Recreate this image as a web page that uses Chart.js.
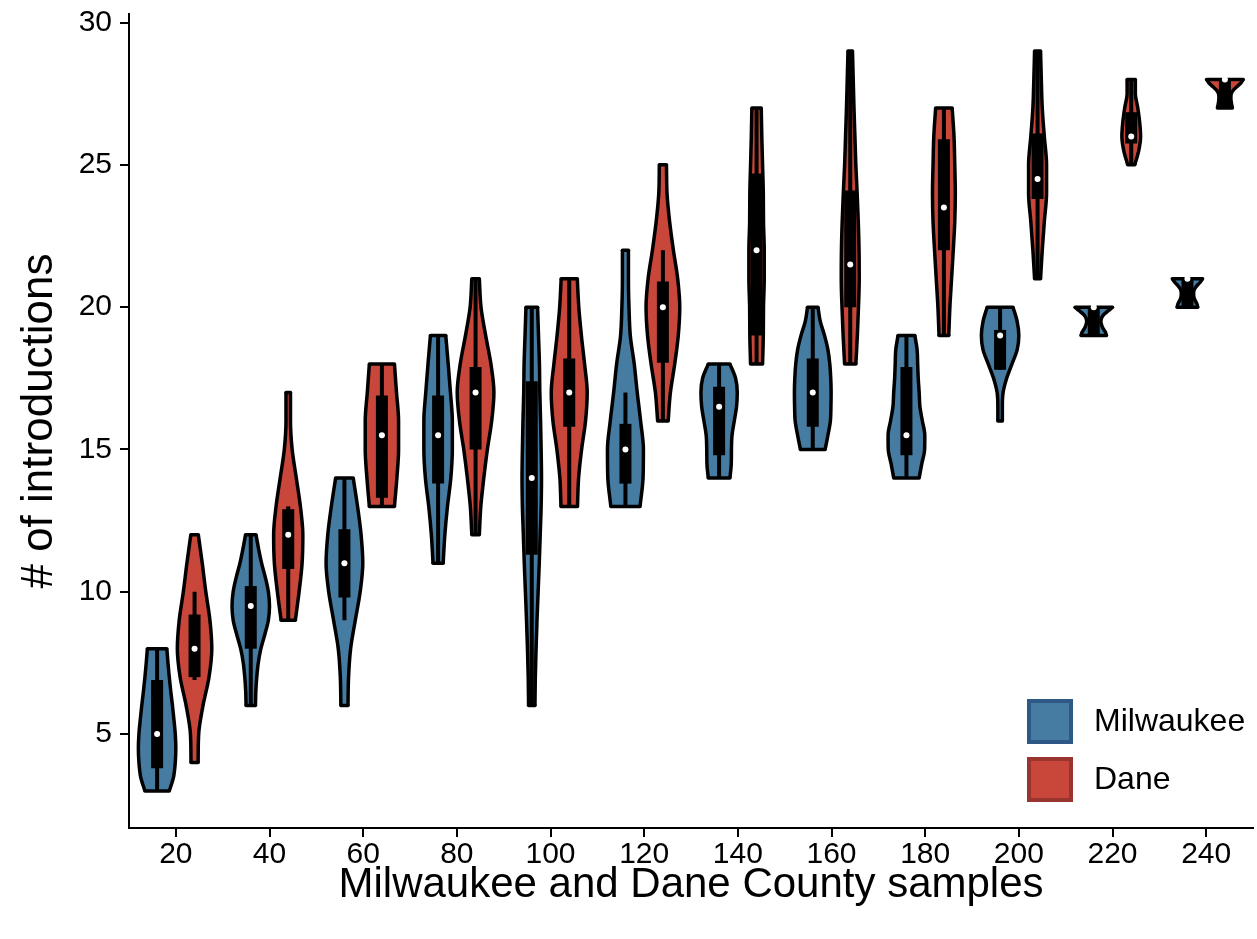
<!DOCTYPE html>
<html>
<head>
<meta charset="utf-8">
<script src="https://cdn.jsdelivr.net/npm/chart.js@4.4.1/dist/chart.umd.min.js"></script>
<style>
html,body{margin:0;padding:0;background:#fff;}
#wrap{width:1257px;height:939px;position:relative;}
</style>
</head>
<body>
<div id="wrap"><canvas id="c" width="1257" height="939"></canvas></div>
<script>
// ---------- data ----------
const categories = [20, 40, 60, 80, 100, 120, 140, 160, 180, 200, 220, 240];
const seriesNames = ['Milwaukee', 'Dane'];

// Milwaukee
const milLo  = [3, 6, 6, 11, 6, 13, 14, 15, 14, 16, 19, 20];
const milHi  = [8, 12, 14, 19, 20, 22, 18, 20, 19, 20, 20, 21];
const milQ1  = [3.8, 8.0, 9.8, 13.8, 11.3, 13.8, 14.8, 15.8, 14.8, 17.8, 19, 20];
const milMed = [5, 9.5, 11, 15.5, 14, 15, 16.5, 17, 15.5, 19, 20, 21];
const milQ3  = [6.9, 10.2, 12.2, 16.9, 17.4, 15.9, 17.2, 18.2, 17.9, 19.2, 20, 21];
const milWLo = [3, 6, 9, 11, 6, 13, 14, 15, 14, 17.8, 19, 20];
const milWHi = [8, 12, 14, 19, 20, 17, 18, 20, 19, 20, 20, 21];
// relative violin half-widths, sampled evenly from lo to hi
const milDens = [
  [0.65, 0.88, 0.97, 1.0, 0.97, 0.9, 0.82, 0.73, 0.65, 0.58, 0.52],
  [0.25, 0.27, 0.32, 0.4, 0.54, 0.75, 0.94, 1.0, 0.94, 0.78, 0.58, 0.42, 0.28],
  [0.19, 0.22, 0.33, 0.58, 0.84, 0.98, 0.89, 0.70, 0.47],
  [0.27, 0.36, 0.5, 0.68, 0.76, 0.76, 0.66, 0.54, 0.41],
  [0.17, 0.19, 0.23, 0.28, 0.34, 0.4, 0.45, 0.5, 0.52, 0.5, 0.47, 0.43, 0.41, 0.36, 0.31],
  [0.78, 0.94, 0.96, 0.81, 0.63, 0.47, 0.26, 0.19, 0.16, 0.16],
  [0.58, 0.65, 0.66, 0.69, 0.81, 0.93, 0.97, 0.88, 0.58],
  [0.66, 0.81, 0.94, 0.97, 0.98, 0.96, 0.91, 0.81, 0.63, 0.4, 0.28],
  [0.68, 0.82, 0.97, 0.98, 0.85, 0.72, 0.68, 0.63, 0.6, 0.57, 0.45],
  [0.12, 0.12, 0.16, 0.35, 0.63, 0.91, 1.0, 0.91, 0.69],
  [0.68, 0.62, 0.5, 0.42, 0.38, 0.42, 0.55, 0.78, 1.0],
  [0.55, 0.5, 0.4, 0.34, 0.33, 0.37, 0.5, 0.68, 0.81]
];

// Dane
const daneLo  = [4, 9, 13, 12, 13, 16, 18, 18, 19, 21, 25, 27];
const daneHi  = [12, 17, 18, 21, 21, 25, 27, 29, 27, 29, 28, 28];
const daneQ1  = [7.0, 10.8, 13.3, 15.0, 15.8, 18.05, 19.0, 20.0, 22.0, 23.8, 25.75, 27];
const daneMed = [8, 12, 15.5, 17, 17, 20, 22, 21.5, 23.5, 24.5, 26, 28];
const daneQ3  = [9.2, 12.9, 16.9, 17.9, 18.2, 20.9, 24.7, 24.1, 25.9, 26.1, 26.85, 28];
const daneWLo = [6.9, 9, 13, 12, 13, 16, 18, 18, 19, 21, 25, 27];
const daneWHi = [10, 13, 18, 21, 21, 22, 27, 29, 27, 29, 28, 28];
const daneDens = [
  [0.19, 0.22, 0.45, 0.77, 0.92, 0.82, 0.6, 0.41, 0.2],
  [0.38, 0.58, 0.74, 0.78, 0.65, 0.43, 0.21, 0.12, 0.12],
  [0.67, 0.8, 0.89, 0.89, 0.78, 0.67],
  [0.2, 0.28, 0.44, 0.63, 0.86, 0.98, 0.82, 0.54, 0.29, 0.2],
  [0.44, 0.5, 0.66, 0.87, 0.96, 0.82, 0.65, 0.51, 0.43],
  [0.28, 0.4, 0.63, 0.82, 0.9, 0.79, 0.56, 0.36, 0.22, 0.19],
  [0.32, 0.36, 0.37, 0.41, 0.41, 0.37, 0.36, 0.32, 0.28, 0.25],
  [0.3, 0.38, 0.44, 0.48, 0.47, 0.43, 0.37, 0.3, 0.25, 0.2, 0.16, 0.12],
  [0.26, 0.32, 0.41, 0.5, 0.58, 0.61, 0.58, 0.54, 0.44],
  [0.16, 0.25, 0.36, 0.48, 0.48, 0.36, 0.25, 0.2, 0.16],
  [0.19, 0.4, 0.5, 0.45, 0.35, 0.22, 0.22],
  [0.4, 0.36, 0.33, 0.32, 0.34, 0.45, 0.65, 0.85, 0.98]
];

const yTicks = [5, 10, 15, 20, 25, 30];

// ---------- styling ----------
const FONT = "'Liberation Sans', Arial, Helvetica, sans-serif";
const colors = { Milwaukee: '#467ca1', Dane: '#c8473a' };
const edgeColors = { Milwaukee: '#2e5885', Dane: '#98352e' };
const DODGE = 4;       // x-offset of each hue from the category centre (x units)
const HALF = 4;        // max violin half-width (x units)
const EDGE_W = 3.5;

const series = [
  { name: 'Milwaukee', off: -DODGE, lo: milLo, hi: milHi, q1: milQ1, med: milMed, q3: milQ3, wlo: milWLo, whi: milWHi, dens: milDens },
  { name: 'Dane', off: DODGE, lo: daneLo, hi: daneHi, q1: daneQ1, med: daneMed, q3: daneQ3, wlo: daneWLo, whi: daneWHi, dens: daneDens }
];

const datasets = [];
// medians on top (first dataset is drawn last)
series.forEach(s => {
  datasets.push({
    data: categories.map((c, i) => ({ x: c + s.off, y: s.med[i] })),
    showLine: false, pointRadius: 3, pointBackgroundColor: '#fff',
    pointBorderWidth: 0, borderWidth: 0
  });
});

series.forEach(s => {
  categories.forEach((c, i) => {
    const cx = c + s.off;
    const d = s.dens[i];
    const n = d.length;
    const step = (s.hi[i] - s.lo[i]) / (n - 1);
    const left = d.map((w, k) => ({ x: cx - w * HALF, y: s.lo[i] + k * step }));
    const right = d.map((w, k) => ({ x: cx + w * HALF, y: s.lo[i] + k * step }));
    // inner box
    datasets.push({ data: [{ x: cx, y: s.q1[i] }, { x: cx, y: s.q3[i] }],
      borderColor: '#000', borderWidth: 12, borderCapStyle: 'butt', pointRadius: 0, fill: false });
    // whisker
    datasets.push({ data: [{ x: cx, y: s.wlo[i] }, { x: cx, y: s.whi[i] }],
      borderColor: '#000', borderWidth: 4, borderCapStyle: 'butt', pointRadius: 0, fill: false });
    // caps
    datasets.push({ data: [left[0], right[0]], borderColor: '#000', borderWidth: EDGE_W,
      borderCapStyle: 'round', pointRadius: 0, fill: false });
    datasets.push({ data: [left[n - 1], right[n - 1]], borderColor: '#000', borderWidth: EDGE_W,
      borderCapStyle: 'round', pointRadius: 0, fill: false });
    // edges
    datasets.push({ data: left, borderColor: '#000', borderWidth: EDGE_W, pointRadius: 0,
      cubicInterpolationMode: 'monotone', borderJoinStyle: 'round', fill: false });
    datasets.push({ data: right, borderColor: '#000', borderWidth: EDGE_W, pointRadius: 0,
      cubicInterpolationMode: 'monotone', borderJoinStyle: 'round',
      fill: '-1', backgroundColor: colors[s.name] });
  });
});

const legendPlugin = {
  id: 'customLegend',
  afterDraw(chart) {
    const ctx = chart.ctx;
    const area = chart.chartArea;
    ctx.save();
    seriesNames.forEach((name, i) => {
      const x0 = area.right - 226;
      const y0 = area.bottom - 129 + i * 58;
      ctx.fillStyle = colors[name];
      ctx.fillRect(x0, y0, 46, 45);
      ctx.strokeStyle = edgeColors[name];
      ctx.lineWidth = 4;
      ctx.strokeRect(x0 + 2, y0 + 2, 42, 41);
      ctx.fillStyle = '#000';
      ctx.font = '32px ' + FONT;
      ctx.textBaseline = 'middle';
      ctx.textAlign = 'left';
      ctx.fillText(name, x0 + 67, y0 + 23);
    });
    ctx.restore();
  }
};

new Chart(document.getElementById('c'), {
  type: 'line',
  data: { datasets },
  plugins: [legendPlugin],
  options: {
    responsive: false,
    devicePixelRatio: 1,
    animation: false,
    events: [],
    indexAxis: 'y',
    layout: { padding: { top: 14, right: 0, bottom: 0, left: 0 } },
    plugins: { legend: { display: false }, tooltip: { enabled: false } },
    scales: {
      x: {
        type: 'linear', min: 10, max: 250,
        afterBuildTicks: sc => { sc.ticks = categories.map(v => ({ value: v })); },
        afterFit: sc => { sc.height = 111; sc.paddingLeft = 0; sc.paddingRight = 0; },
        grid: { drawOnChartArea: false, drawTicks: true, tickLength: 9, color: '#000', lineWidth: 2 },
        border: { display: true, color: '#000', width: 2 },
        ticks: { color: '#000', font: { family: FONT, size: 30 }, padding: 0, maxRotation: 0, autoSkip: false },
        title: { display: true, text: 'Milwaukee and Dane County samples', color: '#000',
                 font: { family: FONT, size: 42 }, padding: { top: 0, bottom: 28 } }
      },
      y: {
        type: 'linear', min: 1.7, max: 30.3,
        afterBuildTicks: sc => { sc.ticks = yTicks.map(v => ({ value: v })); },
        afterFit: sc => { sc.width = 129; sc.paddingTop = 0; sc.paddingBottom = 0; },
        grid: { drawOnChartArea: false, drawTicks: true, tickLength: 9, color: '#000', lineWidth: 2 },
        border: { display: true, color: '#000', width: 2 },
        ticks: { color: '#000', font: { family: FONT, size: 30 }, padding: 8, autoSkip: false },
        title: { display: true, text: '# of introductions', color: '#000',
                 font: { family: FONT, size: 44 }, padding: { top: 13, bottom: 0 } }
      }
    }
  }
});
</script>
</body>
</html>
